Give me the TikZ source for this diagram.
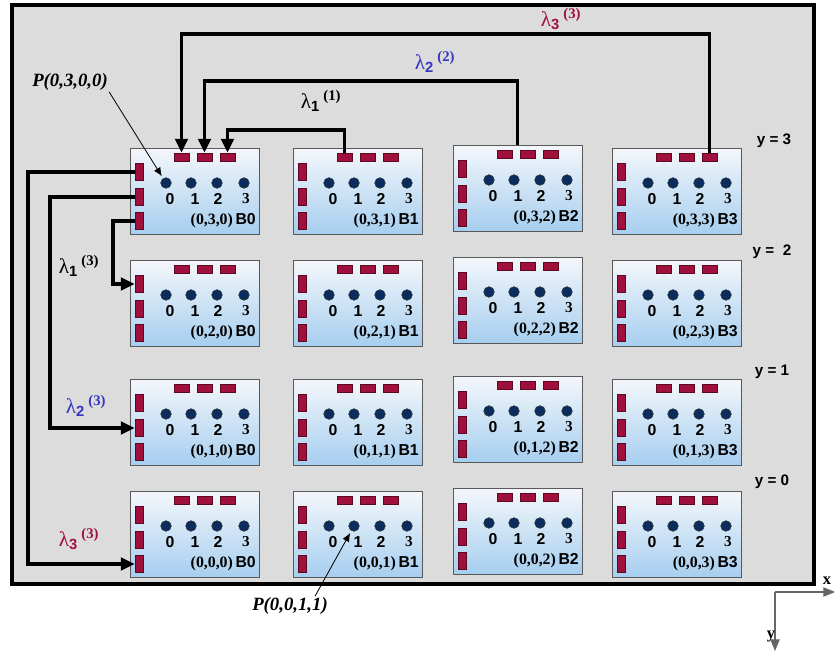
\documentclass[tikz,border=0pt]{standalone}
\usepackage{fontspec}
\setmainfont{Liberation Serif}
\setsansfont{Liberation Sans}
\usetikzlibrary{arrows.meta,positioning}
\definecolor{framegray}{HTML}{DCDCDC}
\definecolor{boxtop}{HTML}{F4F7FB}
\definecolor{boxbot}{HTML}{A6CEEF}
\definecolor{redf}{HTML}{A0103C}
\definecolor{redd}{HTML}{5C0820}
\definecolor{dotf}{HTML}{0B2D5E}
\definecolor{lamred}{HTML}{9E1040}
\definecolor{lamblue}{HTML}{3535C0}

\begin{document}
\begin{tikzpicture}[x=0.03cm,y=-0.03cm,>=Latex,
  blk/.style={draw=black!65,line width=0.6pt,top color=boxtop,bottom color=boxbot,minimum width=3.87cm,minimum height=2.58cm,inner sep=0pt,anchor=north west},
  redh/.style={draw=redd,fill=redf,line width=0.4pt,minimum width=0.45cm,minimum height=0.24cm,inner sep=0pt},
  redv/.style={draw=redd,fill=redf,line width=0.4pt,minimum width=0.24cm,minimum height=0.51cm,inner sep=0pt},
  pdot/.style={circle,draw=black!80,fill=dotf,line width=0.4pt,minimum size=0.32cm,inner sep=0pt},
  num/.style={font=\fontsize{13.5}{15}\selectfont\sffamily\bfseries,inner sep=0pt},
  numser/.style={font=\fontsize{13}{15}\selectfont\bfseries,inner sep=0pt},
  lbl/.style={font=\fontsize{13.5}{15}\selectfont\bfseries,inner sep=0pt,anchor=east},
  lam/.style={font=\fontsize{18}{20}\selectfont,inner sep=0pt},
  ylab/.style={font=\fontsize{13}{15}\selectfont\sffamily\bfseries,inner sep=0pt},
  plab/.style={font=\fontsize{16}{18}\selectfont\bfseries\itshape,inner sep=1pt},
  conn/.style={line width=2.6pt,-{Triangle[length=4.2mm,width=3.8mm]}},
  parr/.style={line width=0.7pt,-{Latex[length=2.6mm,width=2.2mm]},shorten >=2pt},
  axis/.style={line width=1pt,draw=black!60,-{Triangle[length=3.5mm,width=2.8mm]}},
  axl/.style={font=\fontsize{14}{16}\selectfont\bfseries,inner sep=0pt}]
\useasboundingbox (0,0) rectangle (835,654);

% frame
\draw[line width=3pt,fill=framegray] (12,5) rectangle (814,584);

% blocks, b<y><x>
\foreach \r/\ry in {3/148,2/260,1/379,0/491}{
  \foreach \c/\cx/\dy in {0/130/0,1/293/0,2/453/-3,3/612/0}{
    \node[blk] (b\r\c) at (\cx,{\ry+\dy}) {};
    \foreach \k/\ox in {1/51.5,2/74.5,3/97.5}
      \node[redh] (b\r\c-t\k) at ({\cx+\ox},{\ry+\dy+9}) {};
    \foreach \k/\oy in {1/24,2/49,3/73}
      \node[redv] (b\r\c-l\k) at ({\cx+9},{\ry+\dy+\oy}) {};
    \foreach \k/\ox in {0/36,1/61,2/87,3/114}
      \node[pdot] (b\r\c-d\k) at ({\cx+\ox},{\ry+\dy+35}) {};
    \foreach \k/\ox in {0/40,1/65,2/88}
      \node[num] (b\r\c-n\k) at ({\cx+\ox},{\ry+\dy+51}) {\k};
    \node[numser] (b\r\c-n3) at ({\cx+116},{\ry+\dy+51}) {3};
    \node[lbl] (b\r\c-lab) at ({\cx+126},{\ry+\dy+73}) {(0,\r,\c)\,{\sffamily B\c}};
  }
}

% row labels
\node[ylab] (y3) at (774,141) {y = 3};
\node[ylab] (y2) at (772,252) {y =\ \ 2};
\node[ylab] (y1) at (772,372) {y = 1};
\node[ylab] (y0) at (772,482) {y = 0};

% links along x
\draw[conn] (b31-t1.north) -- (b31-t1.north |- 0,130) -| (b30-t3.north);
\draw[conn] (b32.north) -- (b32.north |- 0,81) -| (b30-t2.north);
\draw[conn] (b33-t3.north) -- (b33-t3.north |- 0,34) -| (b30-t1.north);
\node[lam] (lx1) at (321,101) {λ\textsubscript{\sffamily\bfseries 1}\,\textsuperscript{\bfseries (1)}};
\node[lam,text=lamblue] (lx2) at (435,62) {λ\textsubscript{\sffamily\bfseries 2}\,\textsuperscript{\bfseries (2)}};
\node[lam,text=lamred] (lx3) at (561,19) {λ\textsubscript{\sffamily\bfseries 3}\,\textsuperscript{\bfseries (3)}};

% links along y
\draw[conn] (b30-l3.west) -- (113,0 |- b30-l3.west) |- (b20-l1.west);
\draw[conn] (b30-l2.west) -- (50,0 |- b30-l2.west) |- (b10-l2.west);
\draw[conn] (b30-l1.west) -- (28,0 |- b30-l1.west) |- (b00-l3.west);
\node[lam] (ly1) at (79,266) {λ\textsubscript{\sffamily\bfseries 1}\,\textsuperscript{\bfseries (3)}};
\node[lam,text=lamblue] (ly2) at (86,406) {λ\textsubscript{\sffamily\bfseries 2}\,\textsuperscript{\bfseries (3)}};
\node[lam,text=lamred] (ly3) at (79,539) {λ\textsubscript{\sffamily\bfseries 3}\,\textsuperscript{\bfseries (3)}};

% processors
\node[plab] (p1) at (70,82) {P(0,3,0,0)};
\draw[parr] (p1.south east) -- (b30-d0);
\node[plab] (p2) at (290,606) {P(0,0,1,1)};
\draw[parr] ([xshift=-12pt]p2.north east) -- (b01-d1);

% axes
\coordinate (o) at (775,592);
\coordinate (xe) at (835,592);
\coordinate (ye) at (775,651);
\draw[axis] (o) -- (xe);
\draw[axis] (o) -- (ye);
\node[axl] (xl) at (827,581) {x};
\node[axl] (yl) at (771,637) {y};
\end{tikzpicture}
\end{document}
